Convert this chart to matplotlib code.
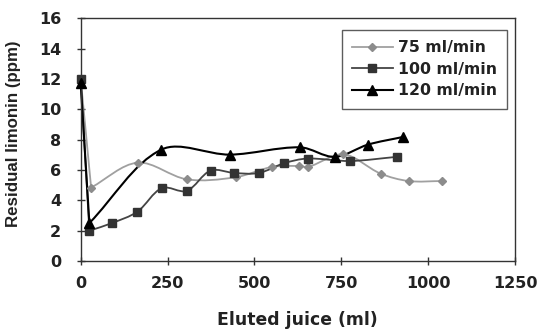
import numpy as np
import matplotlib
matplotlib.use('Agg')
import matplotlib.pyplot as plt
from matplotlib.path import Path
from matplotlib.patches import PathPatch
from matplotlib.lines import Line2D

plt.rcParams['font.family'] = ['DejaVu Sans']

# datos
x75 = [0, 30, 164, 306, 446, 551, 629, 655, 756, 863, 944, 1040]
y75 = [12.0, 4.84, 6.48, 5.38, 5.52, 6.2, 6.26, 6.2, 7.03, 5.76, 5.27, 5.27]
x100 = [0, 25, 90, 163, 234, 305, 374, 442, 513, 585, 653, 775, 909]
y100 = [12.0, 2.0, 2.5, 3.25, 4.81, 4.62, 5.96, 5.8, 5.8, 6.44, 6.75, 6.59, 6.86]
x120 = [0, 25, 232, 430, 631, 731, 827, 929]
y120 = [11.7, 2.5, 7.34, 7.01, 7.49, 6.86, 7.67, 8.18]

xticks = [0, 250, 500, 750, 1000, 1250]
yticks = [0, 2, 4, 6, 8, 10, 12, 14, 16]


def smooth_path(ax, xs, ys):
    # primer tramo recto (caida inicial), el resto suavizado tipo Excel
    p = np.column_stack([xs, ys]).astype(float)
    q = ax.transData.transform(p)
    n = len(p)
    d = np.hypot(*(q[1:] - q[:-1]).T)
    verts = [p[0], p[1]]
    codes = [Path.MOVETO, Path.LINETO]

    def tang(i):
        if i == 1:
            return (p[2] - p[1]) / d[1]
        if i == n - 1:
            return (p[-1] - p[-2]) / d[-1]
        return (p[i + 1] - p[i - 1]) / (d[i - 1] + d[i])

    for i in range(1, n - 1):
        c1 = p[i] + tang(i) * d[i] / 3
        c2 = p[i + 1] - tang(i + 1) * d[i] / 3
        verts += [c1, c2, p[i + 1]]
        codes += [Path.CURVE4] * 3
    return Path(verts, codes)


fig = plt.figure(figsize=(5.39, 3.30), dpi=100)
ax = fig.add_axes([0.1497, 0.209, 0.8058, 0.736])
ax.set_xlim(0, 1250)
ax.set_ylim(0, 16)

series = [
    (x75, y75, '#a0a0a0', '#8c8c8c', 'D', 4, 1.3, '75 ml/min'),
    (x100, y100, '#444444', '#333333', 's', 6, 1.3, '100 ml/min'),
    (x120, y120, '#000000', '#000000', '^', 7, 1.5, '120 ml/min'),
]
handles = []
for xs, ys, lc, mc, m, ms, lw, lab in series:
    ax.add_patch(PathPatch(smooth_path(ax, xs, ys), facecolor='none', edgecolor=lc, lw=lw,
                           zorder=2, clip_on=False))
    ax.plot(xs, ys, linestyle='none', marker=m, markersize=ms, color=mc, zorder=3, clip_on=False)
    handles.append(Line2D([], [], color=lc, lw=lw, marker=m, markersize=ms, markerfacecolor=mc,
                          markeredgecolor=mc, label=lab))

ax.set_xticks(xticks)
ax.set_yticks(yticks)
ax.tick_params(direction='inout', length=6, width=1, color='#333333', labelsize=11.5)
ax.tick_params(axis='x', pad=8)
ax.tick_params(axis='y', pad=11)
for lab in ax.get_xticklabels() + ax.get_yticklabels():
    lab.set_fontweight('bold')
    lab.set_color('#222222')
for sp in ax.spines.values():
    sp.set_color('#333333')
    sp.set_linewidth(1)

ax.set_xlabel('Eluted juice (ml)', fontsize=12.4, fontweight='bold', color='#222222')
ax.set_ylabel('Residual limonin (ppm)', fontsize=12.2, fontweight='bold', color='#222222',
              family='Liberation Sans')
ax.xaxis.set_label_coords(0.5, -0.205)
ax.yaxis.set_label_coords(-0.137, 0.523)

leg = ax.legend(handles=handles, loc='upper right', bbox_to_anchor=(0.981, 0.951),
                frameon=True, fancybox=False, fontsize=11.3, handlelength=2.6,
                handletextpad=0.3, borderpad=0.65, labelspacing=0.42, borderaxespad=0)
leg.get_frame().set_edgecolor('#333333')
leg.get_frame().set_linewidth(1)
for t in leg.get_texts():
    t.set_fontweight('bold')
    t.set_color('#222222')

fig.savefig('out.png', dpi=100)
